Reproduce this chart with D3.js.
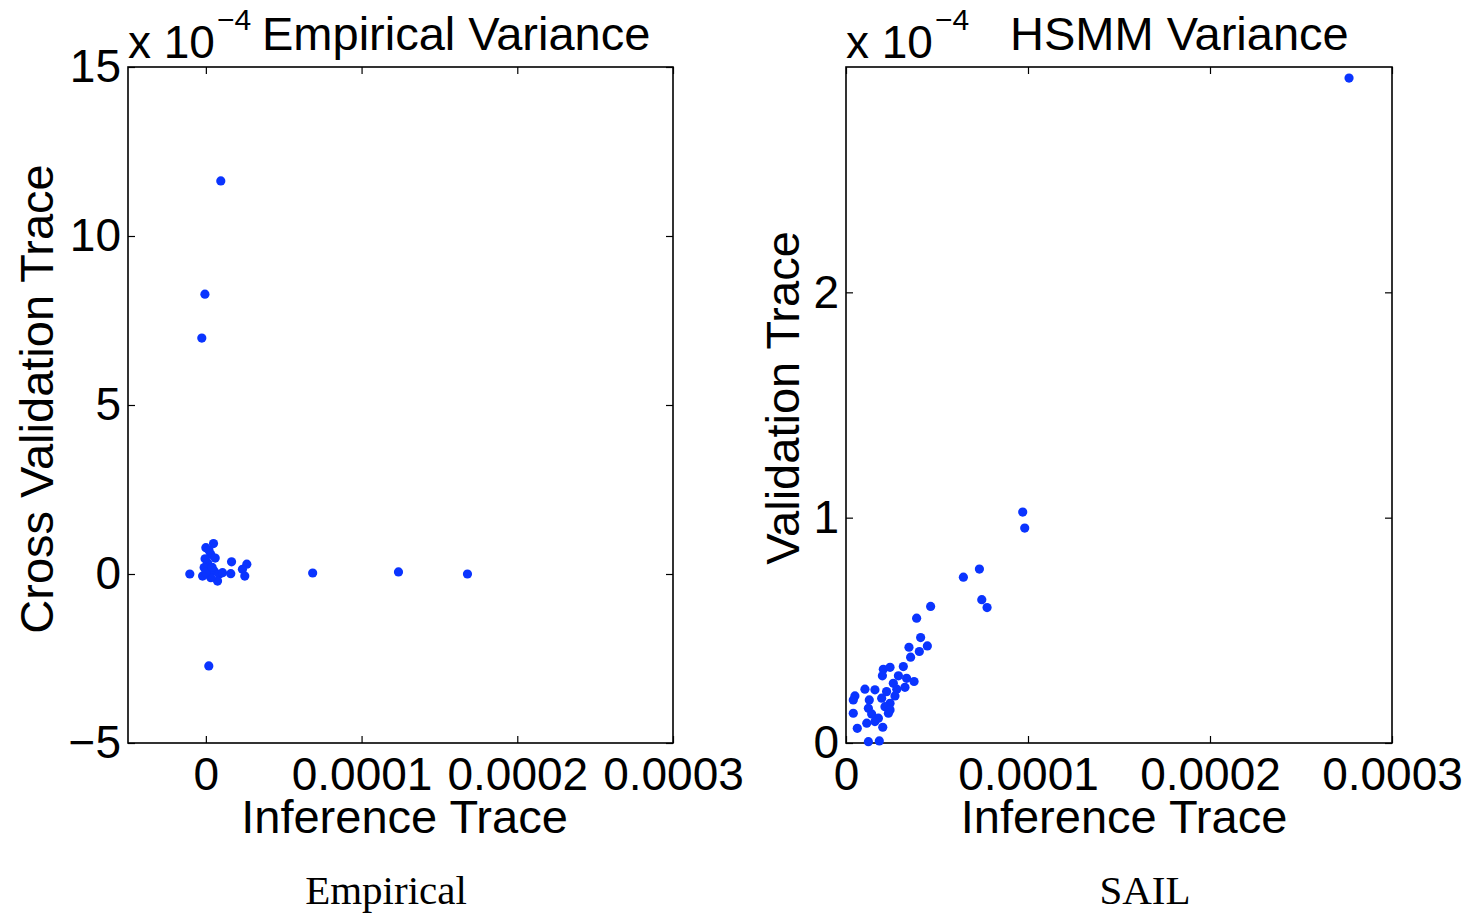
<!DOCTYPE html>
<html>
<head>
<meta charset="utf-8">
<script src="https://cdn.jsdelivr.net/npm/d3@7"></script>
<style>
  html, body { margin: 0; padding: 0; background: #fff; }
  svg { display: block; }
  text { font-family: "Liberation Sans", Arial, Helvetica, sans-serif; fill: #000; }
  .caption { font-family: "Liberation Serif", "Times New Roman", serif; }
</style>
</head>
<body>
<svg id="chart" width="1472" height="918"></svg>
<script>
// Values are given in units of 1e-4 (the axes' "x 10^-4" multiplier).

// Empirical variance: inference trace vs cross validation trace
const empInfer = [0.096, -0.006, -0.026, 0.019, 0.686, 1.237, 1.68, -0.103,
  0.0, 0.049, 0.032, 0.011, -0.011, 0.011, -0.021, 0.053, 0.085, 0.075, 0.032,
  0.107, 0.165, 0.160, 0.263, 0.235, 0.25, 0.02, -0.005, 0.0, 0.04, 0.06];
const empCross = [11.63, 8.28, 6.98, -2.72, 0.03, 0.06, 0.0, 0.0,
  0.78, 0.90, 0.58, 0.33, 0.19, -0.01, -0.06, 0.09, -0.01, -0.21, -0.11,
  0.04, 0.36, 0.01, 0.29, 0.14, -0.06, 0.70, 0.45, 0.05, 0.20, 0.47];

// HSMM variance: inference trace vs validation trace
const hsmmInfer = [2.764, 0.971, 0.982, 0.733, 0.645, 0.746, 0.775,
  0.465, 0.388, 0.410, 0.447, 0.346, 0.403, 0.355, 0.205, 0.242, 0.315,
  0.200, 0.288, 0.333, 0.374, 0.260, 0.324, 0.279, 0.104, 0.159, 0.223,
  0.269, 0.049, 0.040, 0.196, 0.128, 0.242, 0.214, 0.123, 0.242, 0.040,
  0.141, 0.233, 0.178, 0.114, 0.159, 0.202, 0.062, 0.123, 0.183];
const hsmmValid = [2.951, 1.025, 0.954, 0.772, 0.736, 0.636, 0.601,
  0.606, 0.554, 0.468, 0.431, 0.425, 0.406, 0.381, 0.327, 0.336, 0.339,
  0.298, 0.298, 0.287, 0.273, 0.265, 0.247, 0.239, 0.239, 0.236, 0.228,
  0.209, 0.209, 0.191, 0.199, 0.191, 0.176, 0.161, 0.154, 0.147, 0.132,
  0.129, 0.132, 0.110, 0.088, 0.095, 0.070, 0.065, 0.006, 0.009];

const empXTicks = [0, 1, 2, 3];
const empYTicks = [-5, 0, 5, 10, 15];
const hsmmXTicks = [0, 1, 2, 3];
const hsmmYTicks = [0, 1, 2];
const xTickLabel = v => v === 0 ? "0" : (v * 1e-4).toFixed(4);

const svg = d3.select("#chart");
const markColor = "#0a34ff";
const labelSize = 47;
const tickSize = 46;

function panel(opt) {
  const g = svg.append("g");
  const x = d3.scaleLinear().domain(opt.xDomain).range([opt.left, opt.right]);
  const y = d3.scaleLinear().domain(opt.yDomain).range([opt.bottom, opt.top]);
  const tickLen = 7;

  // inward ticks on all four sides
  const axes = [
    d3.axisBottom(x).tickValues(opt.xTicks).tickSize(-tickLen).tickFormat(xTickLabel).tickPadding(14),
    d3.axisTop(x).tickValues(opt.xTicks).tickSize(-tickLen).tickFormat(""),
    d3.axisLeft(y).tickValues(opt.yTicks).tickSize(-tickLen).tickFormat(d => d < 0 ? "\u2212" + (-d) : d).tickPadding(7),
    d3.axisRight(y).tickValues(opt.yTicks).tickSize(-tickLen).tickFormat("")
  ];
  const shifts = [
    `translate(0,${opt.bottom})`, `translate(0,${opt.top})`,
    `translate(${opt.left},0)`, `translate(${opt.right},0)`
  ];
  axes.forEach((ax, i) => {
    const a = g.append("g").attr("transform", shifts[i]).call(ax);
    a.select(".domain").remove();
    a.selectAll(".tick line").attr("stroke", "#000").attr("stroke-width", 1.2);
    a.selectAll(".tick text").attr("font-size", tickSize)
      .style("font-family", '"Liberation Sans", Arial, sans-serif');
  });
  g.selectAll(".tick text").filter(function () { return this.textContent === ""; }).remove();

  // frame
  g.append("rect")
    .attr("x", opt.left).attr("y", opt.top)
    .attr("width", opt.right - opt.left).attr("height", opt.bottom - opt.top)
    .attr("fill", "none").attr("stroke", "#000").attr("stroke-width", 1.6);

  // points
  const pts = opt.xs.map((v, i) => [v, opt.ys[i]]);
  g.append("g").selectAll("circle").data(pts).join("circle")
    .attr("cx", d => x(d[0])).attr("cy", d => y(d[1]))
    .attr("r", 4.6).attr("fill", markColor);

  // exponent multiplier and title
  const head = g.append("text").attr("x", opt.left).attr("y", 58).attr("font-size", 46);
  head.append("tspan").text("x 10");
  head.append("tspan").attr("font-size", 30).attr("dy", -28).attr("dx", 2).text("\u22124");
  g.append("text").attr("x", opt.titleX).attr("y", 50).attr("font-size", labelSize).text(opt.title);

  // axis labels
  g.append("text").attr("x", (opt.left + opt.right) / 2 + opt.xLabelShift).attr("y", 833)
    .attr("text-anchor", "middle").attr("font-size", labelSize).text("Inference Trace");
  g.append("text")
    .attr("transform", `translate(${opt.yLabelX},${opt.yLabelY}) rotate(-90)`)
    .attr("text-anchor", "middle").attr("font-size", labelSize).text(opt.yLabel);

  // caption
  g.append("text").attr("class", "caption")
    .attr("x", opt.captionX).attr("y", 904)
    .attr("text-anchor", "middle").attr("font-size", 41).text(opt.caption);
}

panel({
  left: 128, right: 673, top: 67, bottom: 743,
  xDomain: [-0.5, 3], yDomain: [-5, 15],
  xTicks: empXTicks, yTicks: empYTicks,
  xs: empInfer, ys: empCross,
  title: "Empirical Variance", titleX: 262,
  yLabel: "Cross Validation Trace", yLabelX: 53, yLabelY: 399,
  xLabelShift: 4, caption: "Empirical", captionX: 386
});

panel({
  left: 846, right: 1392, top: 67, bottom: 743,
  xDomain: [0, 3], yDomain: [0, 3],
  xTicks: hsmmXTicks, yTicks: hsmmYTicks,
  xs: hsmmInfer, ys: hsmmValid,
  title: "HSMM Variance", titleX: 1010,
  yLabel: "Validation Trace", yLabelX: 799, yLabelY: 398,
  xLabelShift: 5, caption: "SAIL", captionX: 1145
});
</script>
</body>
</html>
